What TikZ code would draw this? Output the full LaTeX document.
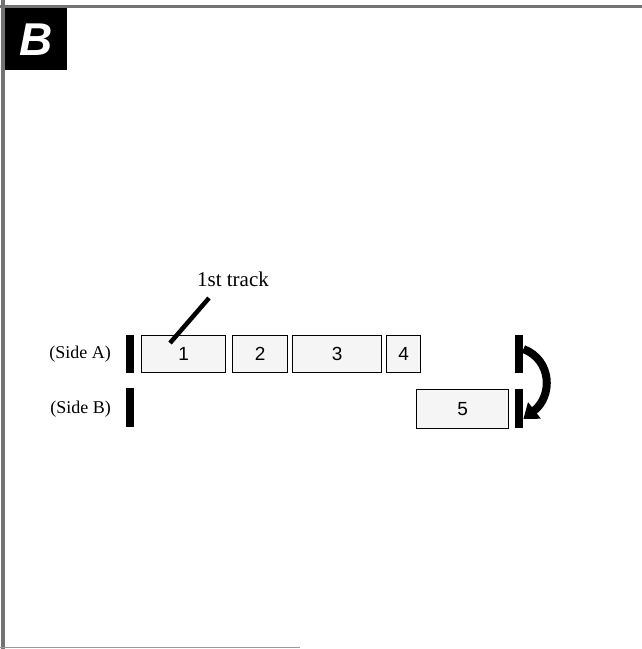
\documentclass[tikz,border=0pt]{standalone}
\usepackage{fontspec}
\setmainfont{Liberation Serif}
\newfontfamily\numfont{Liberation Sans}
\usetikzlibrary{arrows.meta}
\begin{document}
\begin{tikzpicture}[x=1pt,y=-1pt,
  trk/.style={draw=black,line width=1.3pt,fill=black!4,minimum height=37pt,inner sep=0pt,font=\numfont\fontsize{19}{21}\selectfont,anchor=north west},
  endbar/.style={fill=black,draw=none,minimum width=8pt,inner sep=0pt,anchor=north west},
  lbl/.style={font=\fontsize{18}{20}\selectfont,inner sep=0pt}]
\useasboundingbox (0,0) rectangle (642,649);
\fill[white] (0,0) rectangle (642,649);
% frame
\draw[black!55,line width=3pt] (0,6.5) -- (642,6.5);
\draw[black!55,line width=4pt] (2.5,0) -- (2.5,649);
\draw[black!40,line width=1pt] (0,647.5) -- (300,647.5);
% B label
\node[fill=black,minimum width=62pt,minimum height=62pt,inner sep=0pt,anchor=north west,
  text=white,font=\numfont\bfseries\itshape\fontsize{46}{46}\selectfont] (blbl) at (4.5,8) {B};
% side labels
\node[lbl,anchor=east] (sa) at (111,354) {(Side A)};
\node[lbl,anchor=east] (sb) at (111,409) {(Side B)};
% end bars
\node[endbar,minimum height=38pt] (la) at (126,335) {};
\node[endbar,minimum height=39pt] (lb) at (126,388) {};
\node[endbar,minimum height=38pt] (ra) at (515,335) {};
\node[endbar,minimum height=39pt] (rb) at (515,389) {};
% tracks
\node[trk,minimum width=84pt] (t1) at (141,335) {1};
\node[trk,minimum width=55pt] (t2) at (232,335) {2};
\node[trk,minimum width=89pt] (t3) at (292,335) {3};
\node[trk,minimum width=34pt] (t4) at (386,335) {4};
\node[trk,minimum width=92pt,minimum height=39pt] (t5) at (416,389) {5};
% first track label
\node[lbl,font=\fontsize{21}{23}\selectfont] (first) at (233,279) {1st track};
\coordinate (ftip) at (170,343);
\draw[line width=4.5pt] (209,298) -- (ftip);
% flip arrow
\draw[line width=8pt,-{Triangle[length=14pt,width=20pt]}]
  (ra.east |- 0,349) .. controls (552,360) and (553,396) .. (rb.east |- 0,419);
\end{tikzpicture}
\end{document}
